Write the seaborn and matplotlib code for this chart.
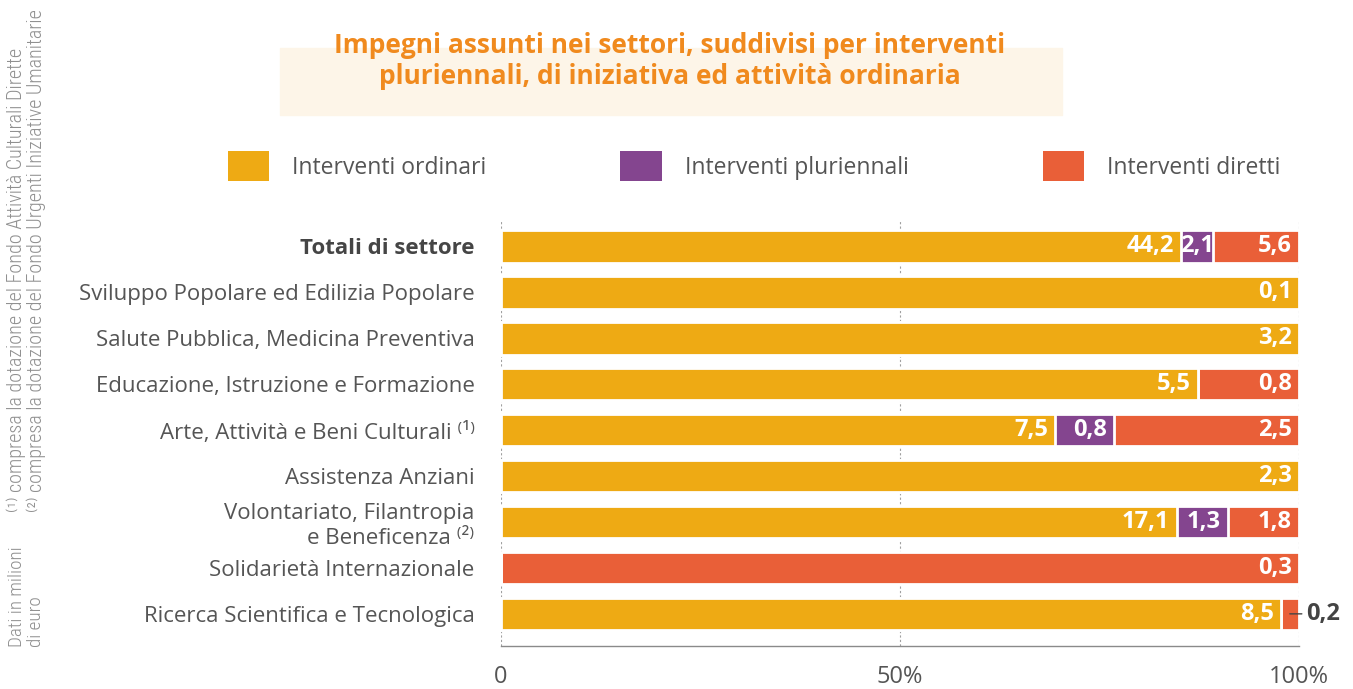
import pandas as pd
import seaborn as sns
import matplotlib.pyplot as plt
from matplotlib.patches import Patch, Rectangle

# Dati (milioni di euro)
settori = [
    'Totali di settore',
    'Sviluppo Popolare ed Edilizia Popolare',
    'Salute Pubblica, Medicina Preventiva',
    'Educazione, Istruzione e Formazione',
    'Arte, Attività e Beni Culturali ⁽¹⁾',
    'Assistenza Anziani',
    'Volontariato, Filantropia\ne Beneficenza ⁽²⁾',
    'Solidarietà Internazionale',
    'Ricerca Scientifica e Tecnologica',
]
ordinari = [44.2, 0.1, 3.2, 5.5, 7.5, 2.3, 17.1, 0.0, 8.5]
pluriennali = [2.1, 0.0, 0.0, 0.0, 0.8, 0.0, 1.3, 0.0, 0.0]
diretti = [5.6, 0.0, 0.0, 0.8, 2.5, 0.0, 1.8, 0.3, 0.2]

serie = ['Interventi ordinari', 'Interventi pluriennali', 'Interventi diretti']
colori = ['#EEAA14', '#84458F', '#E95F38']
tick_pos = [0, 50, 100]
tick_lab = ['0', '50%', '100%']

# Percentuali cumulate per riga
df = pd.DataFrame({
    'settore': settori,
    'ordinari': ordinari,
    'pluriennali': pluriennali,
    'diretti': diretti,
})
tot = df[['ordinari', 'pluriennali', 'diretti']].sum(axis=1)
df['c1'] = df['ordinari'] / tot * 100
df['c2'] = (df['ordinari'] + df['pluriennali']) / tot * 100
df['c3'] = (df['ordinari'] + df['pluriennali'] + df['diretti']) / tot * 100

sns.set_theme(style='white')
plt.rcParams['font.family'] = ['Open Sans', 'DejaVu Sans']

fig = plt.figure(figsize=(13.53, 6.89), dpi=100)
ax = fig.add_axes([0.3703, 0.0624, 0.5898, 0.618])

# barre sovrapposte: dal cumulato totale al primo segmento
for col, c in [('c3', colori[2]), ('c2', colori[1]), ('c1', colori[0])]:
    sns.barplot(
        data=df, x=col, y='settore', orient='h',
        color=c, saturation=1, width=0.71,
        edgecolor='white', linewidth=2,
        errorbar=None, ax=ax, zorder=3
    )

ax.set_xlim(0, 100)
ax.set_ylim(8.7, -0.57)
ax.set_xlabel('')
ax.set_ylabel('')

ax.xaxis.grid(True, linestyle=(0, (2, 2)), color='#a0a0a0', linewidth=0.8)
ax.yaxis.grid(False)
ax.set_axisbelow(True)

for s in ['left', 'top', 'right']:
    ax.spines[s].set_visible(False)
ax.spines['bottom'].set_color('#8a8a8a')
ax.spines['bottom'].set_linewidth(1)

ax.set_xticks(tick_pos)
ax.set_xticklabels(tick_lab)
ax.tick_params(axis='x', direction='inout', length=14, width=1,
               color='#8a8a8a', labelsize=17, labelcolor='#555555', pad=7)
ax.tick_params(axis='y', length=0, pad=19, labelsize=16, labelcolor='#555555')
ax.get_yticklabels()[0].set_fontweight('bold')
ax.get_yticklabels()[0].set_color('#454545')

# Etichette dei valori
for i, r in df.iterrows():
    segs = [
        (r['ordinari'], 0, r['c1']),
        (r['pluriennali'], r['c1'], r['c2']),
        (r['diretti'], r['c2'], r['c3']),
    ]
    for v, a, b in segs:
        if v <= 0:
            continue
        lab = f'{v:.1f}'.replace('.', ',')
        w = b - a
        if w < 3:
            ax.annotate(lab, xy=((a + b) / 2, i), xytext=(12, 0),
                        textcoords='offset points', ha='left', va='center',
                        fontsize=17, fontweight='bold', color='#444444',
                        arrowprops=dict(arrowstyle='-', color='#444444',
                                        lw=1, shrinkA=1, shrinkB=0))
        elif w < 5:
            ax.text((a + b) / 2, i, lab, ha='center', va='center',
                    fontsize=17, fontweight='bold', color='white', zorder=5)
        else:
            ax.annotate(lab, xy=(b, i), xytext=(-5, 0),
                        textcoords='offset points', ha='right', va='center',
                        fontsize=17, fontweight='bold', color='white', zorder=5)

# Titolo
fig.add_artist(Rectangle((280 / 1353, 1 - 115 / 689), 782 / 1353, 67 / 689,
                         transform=fig.transFigure, color='#FDF5E8', zorder=0))
fig.text(670 / 1353, 1 - 61 / 689,
         'Impegni assunti nei settori, suddivisi per interventi\n'
         'pluriennali, di iniziativa ed attività ordinaria',
         ha='center', va='center', fontsize=19, fontweight='bold',
         color='#F08A1E', linespacing=1.2)

# Legenda
handles = [Patch(facecolor=c, edgecolor='none') for c in colori]
fig.legend(handles, serie, loc='center', bbox_to_anchor=(754 / 1353, 1 - 166 / 689),
           ncol=3, frameon=False, fontsize=16.5, handlelength=1.8,
           handleheight=1.6, handletextpad=1.0, columnspacing=5.85,
           labelcolor='#555555')

# Note a margine
note_font = ['Liberation Sans Narrow', 'Roboto Condensed', 'Roboto', 'DejaVu Sans']
fig.text(8 / 1353, 1 - 647 / 689, 'Dati in milioni\ndi euro', rotation=90,
         ha='left', va='bottom', multialignment='left', fontsize=13.8,
         color='#909090', family=note_font, fontweight='light', linespacing=1.1)
fig.text(6 / 1353, 1 - 512 / 689,
         '⁽¹⁾ compresa la dotazione del Fondo Attività Culturali Dirette\n'
         '⁽²⁾ compresa la dotazione del Fondo Urgenti Iniziative Umanitarie',
         rotation=90, ha='left', va='bottom', multialignment='left',
         fontsize=14.5, color='#909090', family=note_font, fontweight='light',
         linespacing=1.05)

plt.savefig('out.png', dpi=100)
